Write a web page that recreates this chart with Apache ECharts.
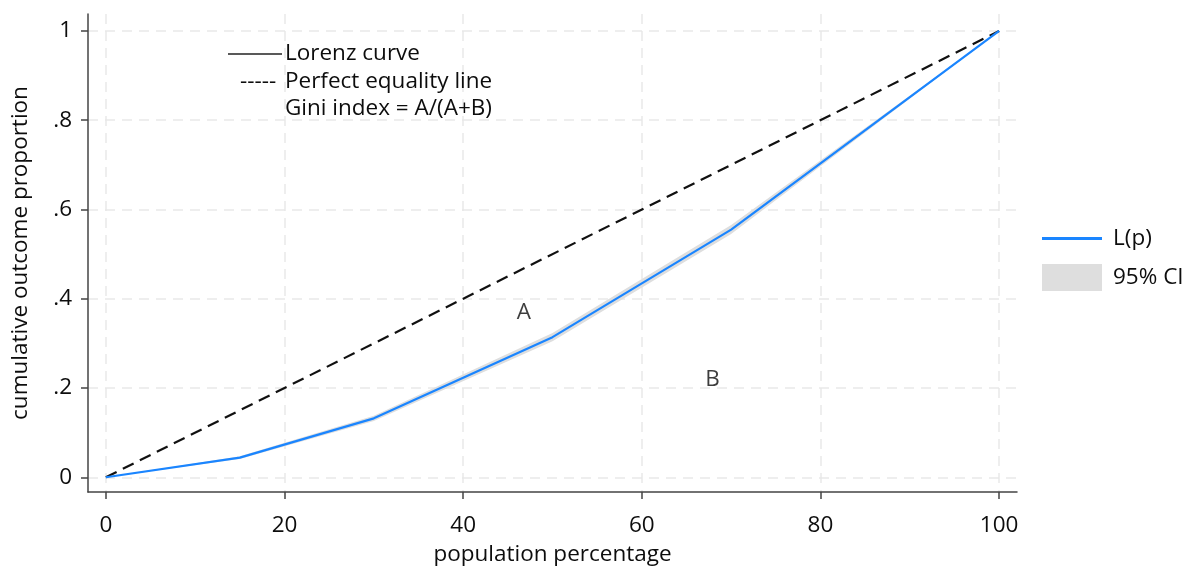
<!DOCTYPE html>
<html>
<head>
<meta charset="utf-8">
<script src="https://cdn.jsdelivr.net/npm/echarts@6/dist/echarts.min.js"></script>
<style>
  html, body { margin: 0; padding: 0; background: #fff; }
  #chart { width: 1194px; height: 572px; }
</style>
</head>
<body>
<div id="chart"></div>
<script>
  // population percentage where the curve has its kinks
  var popPct = [0, 15, 30, 50, 70, 100];
  // Lorenz curve L(p)
  var lorenz = [0, 0.044, 0.132, 0.314, 0.555, 1];
  // 95% CI bounds
  var ciLow = [0, 0.041, 0.126, 0.305, 0.545, 1];
  var ciHigh = [0, 0.047, 0.138, 0.323, 0.565, 1];
  // perfect equality line
  var equalX = [0, 100];
  var equalY = [0, 1];
  var xTicks = [0, 20, 40, 60, 80, 100];
  var yTicks = [0, 0.2, 0.4, 0.6, 0.8, 1];
  var yTickLabels = ['0', '.2', '.4', '.6', '.8', '1'];

  var font = 'Open Sans';
  var fs = 22.5;
  var blue = '#1a85ff';
  var ciGray = '#dedede';
  var ink = '#0d0d0d';

  function pairs(xs, ys) {
    return xs.map(function (x, i) { return [x, ys[i]]; });
  }

  var chart = echarts.init(document.getElementById('chart'));
  chart.setOption({
    animation: false,
    textStyle: { fontFamily: font },
    grid: { left: 88, right: 177, top: 14, bottom: 80, outerBoundsMode: 'none', containLabel: false },
    legend: [
      {
        left: 1037, top: 222, orient: 'vertical',
        itemWidth: 60, itemHeight: 3,
        textStyle: { fontSize: fs, color: ink, fontFamily: font, padding: [0, 0, 0, 6] },
        data: [{ name: 'L(p)', icon: 'rect', itemStyle: { color: blue } }]
      },
      {
        left: 1037, top: 259, orient: 'vertical',
        itemWidth: 60, itemHeight: 27,
        textStyle: { fontSize: fs, color: ink, fontFamily: font, padding: [0, 0, 0, 6] },
        data: [{ name: '95% CI', icon: 'rect', itemStyle: { color: ciGray } }]
      }
    ],
    xAxis: {
      type: 'value', min: -2, max: 102,
      name: 'population percentage', nameLocation: 'middle', nameGap: 51,
      nameTextStyle: { fontSize: fs, color: ink },
      axisLine: { onZero: false, lineStyle: { color: '#444', width: 1.5 } },
      axisTick: { show: true, length: 7, customValues: xTicks, lineStyle: { color: '#444', width: 1.5 } },
      axisLabel: { customValues: xTicks, fontSize: fs, color: ink, margin: 22 },
      splitLine: { show: true, lineStyle: { color: '#e9e9e9', type: [10, 7], width: 1.5 } }
    },
    yAxis: {
      type: 'value', min: -0.033, max: 1.038,
      name: 'cumulative outcome proportion', nameLocation: 'middle', nameGap: 56,
      nameTextStyle: { fontSize: fs, color: ink },
      axisLine: { show: true, onZero: false, lineStyle: { color: '#444', width: 1.5 } },
      axisTick: { show: true, length: 7, customValues: yTicks, lineStyle: { color: '#444', width: 1.5 } },
      axisLabel: {
        customValues: yTicks, fontSize: fs, color: ink, margin: 16,
        formatter: function (v) {
          var i = yTicks.findIndex(function (t) { return Math.abs(t - v) < 1e-6; });
          return i >= 0 ? yTickLabels[i] : '';
        }
      },
      splitLine: { show: true, lineStyle: { color: '#e9e9e9', type: [10, 7], width: 1.5 } }
    },
    series: [
      {
        name: '95% CI', type: 'custom', silent: true, color: ciGray, z: 1,
        data: [0],
        renderItem: function (params, api) {
          var pts = [];
          popPct.forEach(function (x, i) { pts.push(api.coord([x, ciHigh[i]])); });
          for (var i = popPct.length - 1; i >= 0; i--) pts.push(api.coord([popPct[i], ciLow[i]]));
          return { type: 'polygon', shape: { points: pts }, style: { fill: ciGray } };
        }
      },
      {
        name: 'equality', type: 'line', symbol: 'none', silent: true,
        lineStyle: { color: '#111', width: 2.2, type: [12, 7] },
        data: pairs(equalX, equalY), z: 3
      },
      {
        name: 'L(p)', type: 'line', symbol: 'none', color: blue,
        lineStyle: { color: blue, width: 2.2 },
        data: pairs(popPct, lorenz), z: 4
      },
      {
        name: 'areas', type: 'scatter', symbolSize: 0, silent: true,
        label: { show: true, position: 'inside', fontSize: fs, color: ink, formatter: function (p) { return p.data[2]; } },
        data: [[46.8, 0.368, 'A'], [67.9, 0.218, 'B']], z: 5
      }
    ],
    graphic: [
      { type: 'line', z: 100, shape: { x1: 228, y1: 54, x2: 282, y2: 54 }, style: { stroke: '#222', lineWidth: 1.3 } },
      { type: 'text', z: 100, left: 240, top: 70, style: { text: '-----', fontSize: fs, fill: ink, fontFamily: font } },
      { type: 'text', z: 100, left: 285, top: 42, style: { text: 'Lorenz curve', fontSize: fs, fill: ink, fontFamily: font } },
      { type: 'text', z: 100, left: 285, top: 70, style: { text: 'Perfect equality line', fontSize: fs, fill: ink, fontFamily: font } },
      { type: 'text', z: 100, left: 285, top: 97, style: { text: 'Gini index = A/(A+B)', fontSize: fs, fill: ink, fontFamily: font } }
    ]
  });
</script>
</body>
</html>
